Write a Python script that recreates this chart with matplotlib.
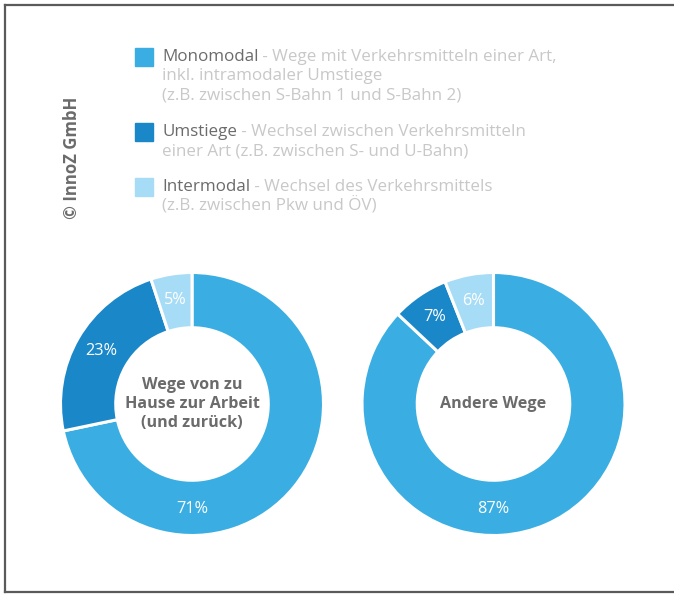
import matplotlib
matplotlib.use("Agg")
import matplotlib.pyplot as plt
from matplotlib.lines import Line2D
import numpy as np

categories = ["Monomodal", "Umstiege", "Intermodal"]
descriptions = [
    ["- Wege mit Verkehrsmitteln einer Art,", "inkl. intramodaler Umstiege", "(z.B. zwischen S-Bahn 1 und S-Bahn 2)"],
    ["- Wechsel zwischen Verkehrsmitteln", "einer Art (z.B. zwischen S- und U-Bahn)"],
    ["- Wechsel des Verkehrsmittels", "(z.B. zwischen Pkw und ÖV)"],
]
chart_titles = ["Wege von zu\nHause zur Arbeit\n(und zurück)", "Andere Wege"]
values_work = [71, 23, 5]
values_other = [87, 7, 6]
copyright_text = "© InnoZ GmbH"

colors = ["#3aaee3", "#1a87c8", "#a7dcf6"]
W, H = 674, 599
FAM = ["Open Sans", "DejaVu Sans"]
plt.rcParams["font.family"] = FAM

fig = plt.figure(figsize=(W / 100, H / 100), dpi=100)
fig.patch.set_facecolor("white")
renderer = fig.canvas.get_renderer()


def fx(px):
    return px / W


def fy(py):
    return 1 - py / H


def fit_size(text, target_px, weight="normal"):
    t = fig.text(0, 0, text, fontsize=10, fontweight=weight)
    w = t.get_window_extent(renderer).width
    t.remove()
    return 10 * target_px / w


# frame
frame_col = "#5a5a5a"
for xs, ys in [([4.5, 4.5], [5, 592]), ([4.5, W], [5, 5]), ([4.5, W], [592, 592])]:
    fig.add_artist(Line2D([fx(v) for v in xs], [fy(v) for v in ys], color=frame_col,
                          lw=1.6, transform=fig.transFigure))

# copyright
fs_c = fit_size(copyright_text, 122, "bold")
fig.text(fx(72), fy(158), copyright_text, rotation=90, ha="center", va="center",
         fontsize=fs_c, fontweight="bold", color="#6b6b6b")

# legend
legend_rows = [57, 132, 187]
line_h = 19
fs_leg = fit_size(categories[0] + " " + descriptions[0][0], 395)
for i, cat in enumerate(categories):
    yc = legend_rows[i]
    sq = 18
    fig.patches.append(plt.Rectangle((fx(135), fy(yc + sq / 2)), sq / W, sq / H,
                                     transform=fig.transFigure, color=colors[i]))
    t1 = fig.text(fx(162), fy(yc), cat, ha="left", va="center", fontsize=fs_leg, color="#6b6b6b")
    bb = t1.get_window_extent(renderer)
    fig.text(bb.x1 / W, fy(yc), " " + descriptions[i][0], ha="left", va="center",
             fontsize=fs_leg, color="#c8c8c8")
    for j, line in enumerate(descriptions[i][1:], start=1):
        fig.text(fx(162), fy(yc + j * line_h), line, ha="left", va="center",
                 fontsize=fs_leg, color="#c8c8c8")

fs_title = fit_size("Hause zur Arbeit", 135, "bold")
fs_pct = fit_size("23%", 32)


def donut(cx, cy, r, vals, title):
    ax = fig.add_axes([fx(cx - r), fy(cy + r), 2 * r / W, 2 * r / H])
    ax.pie(vals, colors=colors, startangle=90, counterclock=False, radius=1,
           wedgeprops=dict(width=0.42, edgecolor="white", linewidth=2.2))
    ax.set_xlim(-1, 1)
    ax.set_ylim(-1, 1)
    ax.set_aspect("equal")
    ax.axis("off")
    total = sum(vals)
    start = 90
    for k, v in enumerate(vals):
        ang = start - 360 * v / total / 2
        start -= 360 * v / total
        if k == 0:
            ang = -90
        rr = 0.80
        ax.text(rr * np.cos(np.radians(ang)), rr * np.sin(np.radians(ang)), f"{v}%",
                ha="center", va="center", color="white", fontsize=fs_pct)
    ax.text(0, 0, title, ha="center", va="center", fontsize=fs_title, fontweight="bold",
            color="#6b6b6b", linespacing=1.25)


donut(192, 404, 131.5, values_work, chart_titles[0])
donut(493.5, 404, 131.5, values_other, chart_titles[1])

fig.savefig("out.png", dpi=100, facecolor="white")
